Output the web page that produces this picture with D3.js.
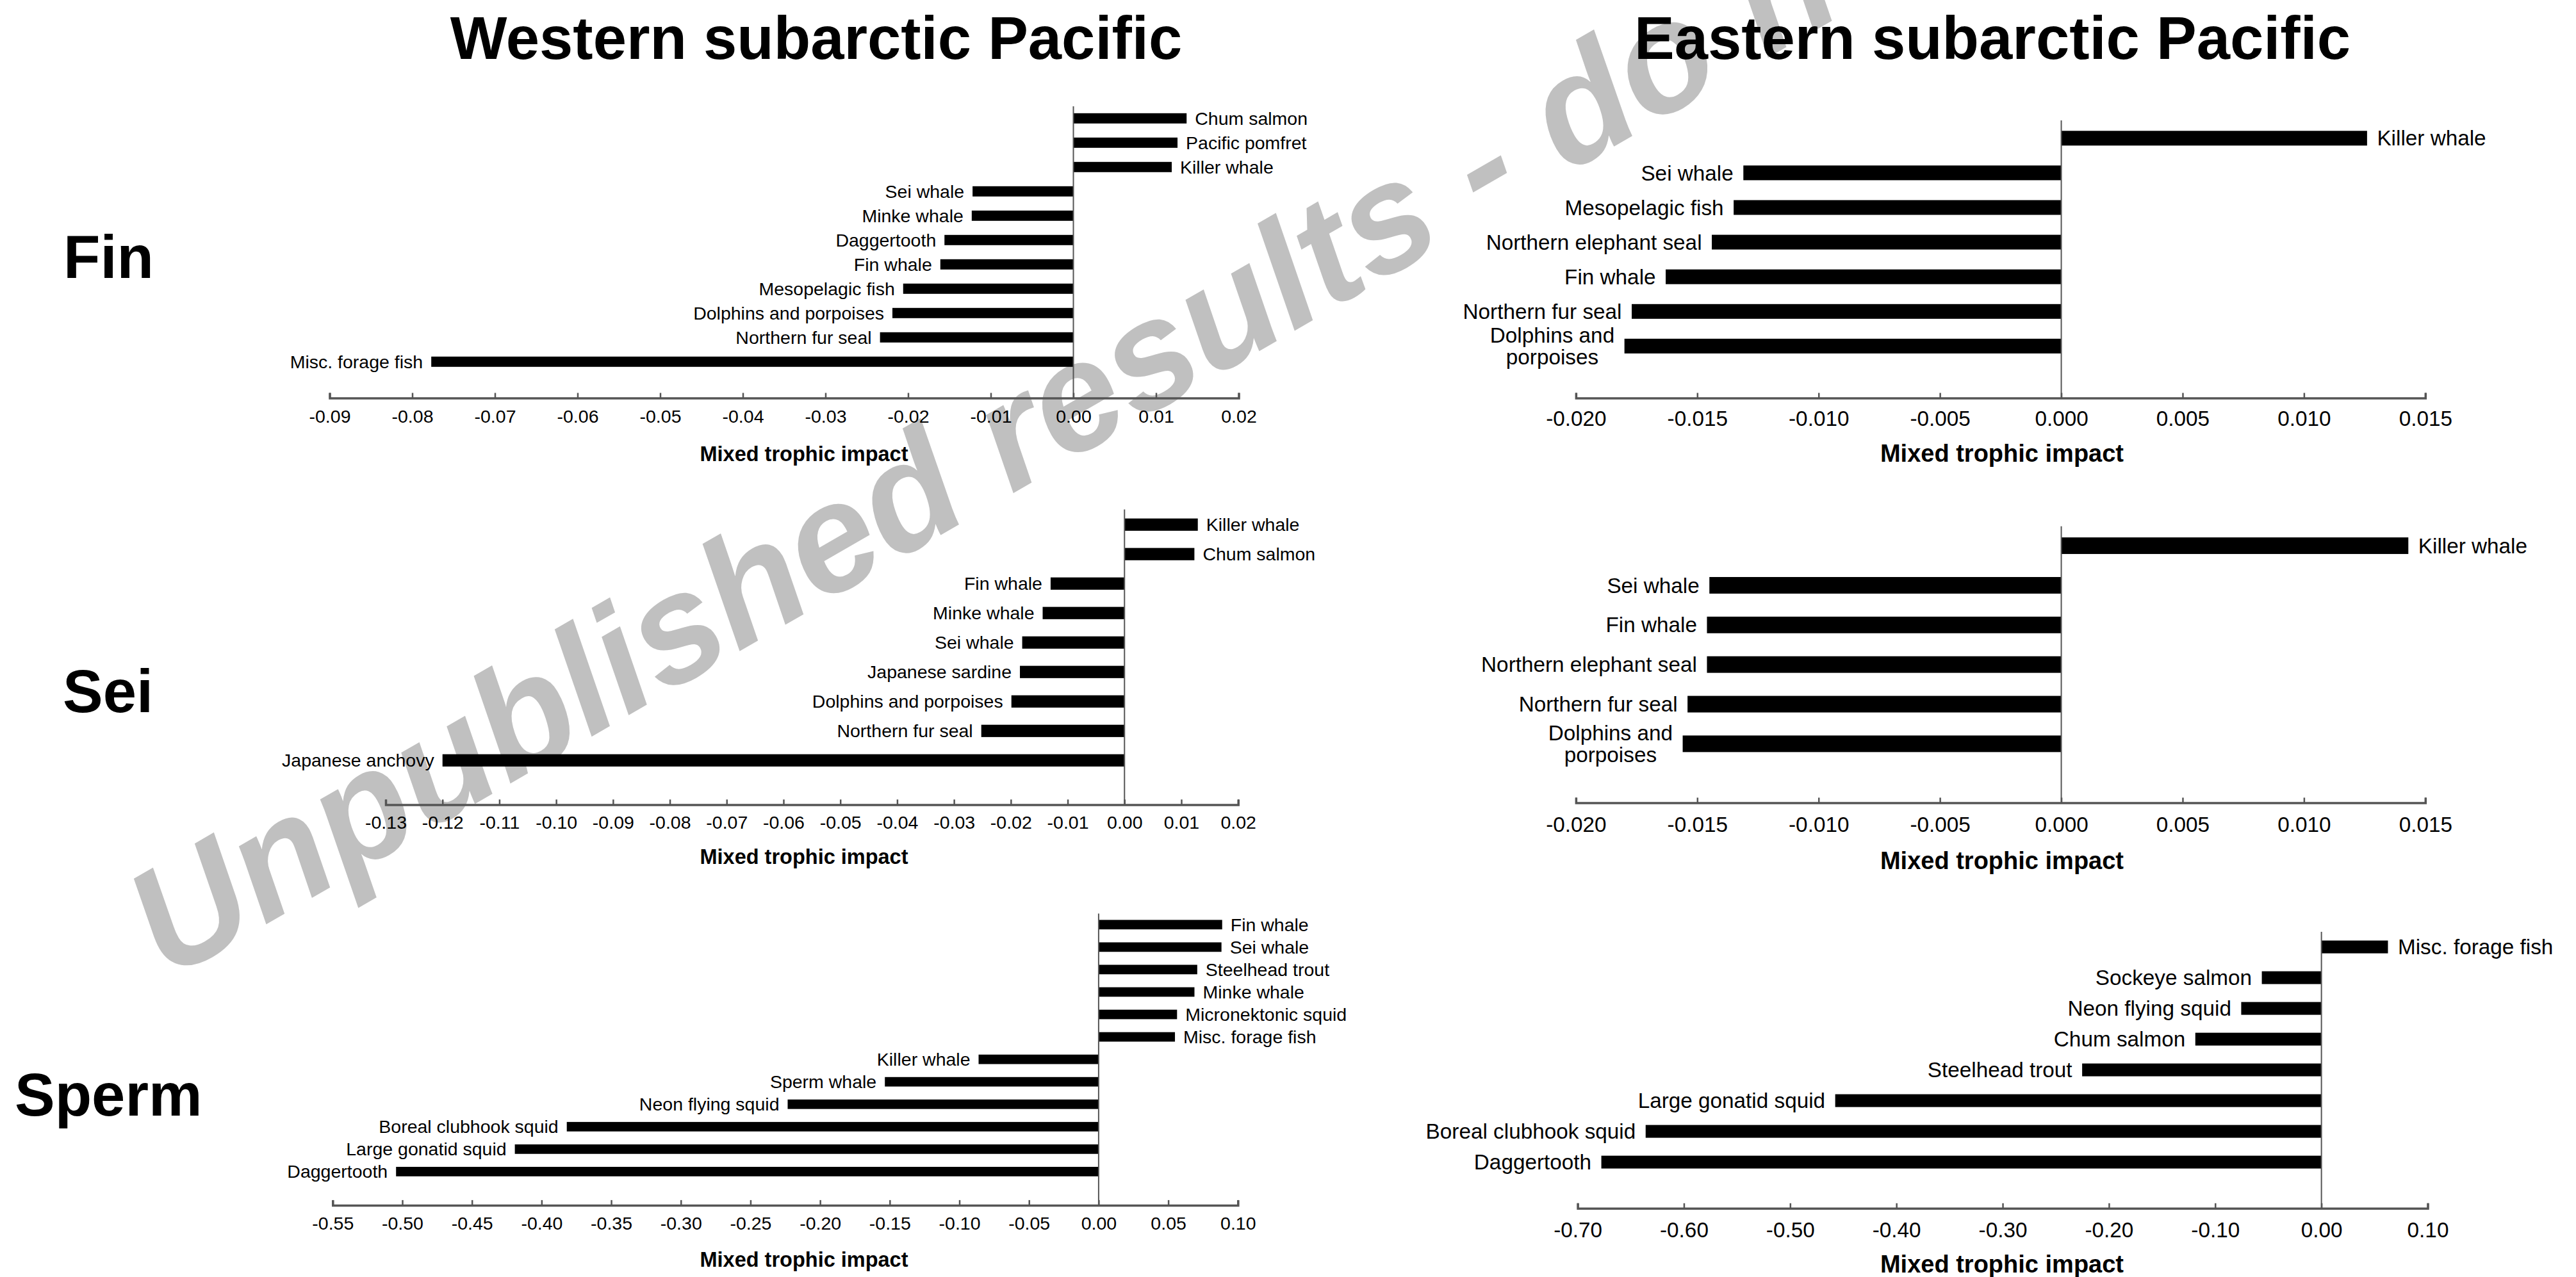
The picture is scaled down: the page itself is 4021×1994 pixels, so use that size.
<!DOCTYPE html>
<html>
<head>
<meta charset="utf-8">
<script src="https://cdn.jsdelivr.net/npm/d3@7"></script>
<style>
  html, body { margin: 0; padding: 0; background: #fff; }
  svg { display: block; }
  text { font-family: "Liberation Sans", Arial, Helvetica, sans-serif; }
</style>
</head>
<body>
<svg id="chart" width="4021" height="1994"></svg>
<script>
// ---- Mixed trophic impact data (top-to-bottom order) ----
const westFinSpecies = ["Chum salmon", "Pacific pomfret", "Killer whale", "Sei whale", "Minke whale",
  "Daggertooth", "Fin whale", "Mesopelagic fish", "Dolphins and porpoises", "Northern fur seal", "Misc. forage fish"];
const westFinImpact = [0.0137, 0.0126, 0.0119, -0.0122, -0.0123, -0.0156, -0.0161, -0.0206, -0.0219, -0.0234, -0.0777];
const westFinTicks = [-0.09, -0.08, -0.07, -0.06, -0.05, -0.04, -0.03, -0.02, -0.01, 0.00, 0.01, 0.02];

const eastFinSpecies = ["Killer whale", "Sei whale", "Mesopelagic fish", "Northern elephant seal",
  "Fin whale", "Northern fur seal", "Dolphins and\nporpoises"];
const eastFinImpact = [0.0126, -0.0131, -0.0135, -0.0144, -0.0163, -0.0177, -0.0180];
const eastTicks = [-0.020, -0.015, -0.010, -0.005, 0.000, 0.005, 0.010, 0.015];

const westSeiSpecies = ["Killer whale", "Chum salmon", "Fin whale", "Minke whale", "Sei whale",
  "Japanese sardine", "Dolphins and porpoises", "Northern fur seal", "Japanese anchovy"];
const westSeiImpact = [0.0129, 0.0123, -0.0130, -0.0144, -0.0180, -0.0184, -0.0199, -0.0252, -0.1200];
const westSeiTicks = [-0.13, -0.12, -0.11, -0.10, -0.09, -0.08, -0.07, -0.06, -0.05, -0.04, -0.03, -0.02, -0.01, 0.00, 0.01, 0.02];

const eastSeiSpecies = ["Killer whale", "Sei whale", "Fin whale", "Northern elephant seal",
  "Northern fur seal", "Dolphins and\nporpoises"];
const eastSeiImpact = [0.0143, -0.0145, -0.0146, -0.0146, -0.0154, -0.0156];

const westSpermSpecies = ["Fin whale", "Sei whale", "Steelhead trout", "Minke whale", "Micronektonic squid",
  "Misc. forage fish", "Killer whale", "Sperm whale", "Neon flying squid", "Boreal clubhook squid",
  "Large gonatid squid", "Daggertooth"];
const westSpermImpact = [0.0887, 0.0882, 0.0708, 0.0688, 0.0563, 0.0548, -0.0862, -0.1535, -0.2233, -0.3819, -0.4192, -0.5045];
const westSpermTicks = [-0.55, -0.50, -0.45, -0.40, -0.35, -0.30, -0.25, -0.20, -0.15, -0.10, -0.05, 0.00, 0.05, 0.10];

const eastSpermSpecies = ["Misc. forage fish", "Sockeye salmon", "Neon flying squid", "Chum salmon",
  "Steelhead trout", "Large gonatid squid", "Boreal clubhook squid", "Daggertooth"];
const eastSpermImpact = [0.0626, -0.0561, -0.0755, -0.1187, -0.2252, -0.4576, -0.6360, -0.6777];
const eastSpermTicks = [-0.70, -0.60, -0.50, -0.40, -0.30, -0.20, -0.10, 0.00, 0.10];

const regionTitles = ["Western subarctic Pacific", "Eastern subarctic Pacific"];
const predatorNames = ["Fin", "Sei", "Sperm"];
const axisTitle = "Mixed trophic impact";
const watermarkText = "Unpublished results - do not cite";

// ---- layout of the six panels ----
const west = { font: 28.5, titleFont: 32.5, titleX: 1255, gap: 13 };
const east = { font: 33.3, titleFont: 38, titleX: 3125, gap: 15.5 };

const panels = [
  Object.assign({ species: westFinSpecies, impact: westFinImpact, ticks: westFinTicks, digits: 2,
    xRange: [514.5, 1933.5], yRange: [184.8, 564.8], barH: 16, zeroTop: 166, axisY: 621.5,
    tickPad: 18, titleY: 720 }, west),
  Object.assign({ species: eastFinSpecies, impact: eastFinImpact, ticks: eastTicks, digits: 3,
    xRange: [2459.9, 3785.8], yRange: [215.8, 540.4], barH: 23, zeroTop: 188, axisY: 621.5,
    tickPad: 20, titleY: 721 }, east),
  Object.assign({ species: westSeiSpecies, impact: westSeiImpact, ticks: westSeiTicks, digits: 2,
    xRange: [602, 1932.7], yRange: [819.2, 1187.3], barH: 19.2, zeroTop: 795.5, axisY: 1256.4,
    tickPad: 17.5, titleY: 1349 }, west),
  Object.assign({ species: eastSeiSpecies, impact: eastSeiImpact, ticks: eastTicks, digits: 3,
    xRange: [2459.9, 3785.8], yRange: [852.1, 1161.4], barH: 25.9, zeroTop: 821.8, axisY: 1253.5,
    tickPad: 21.5, titleY: 1357 }, east),
  Object.assign({ species: westSpermSpecies, impact: westSpermImpact, ticks: westSpermTicks, digits: 2,
    xRange: [519.3, 1932.3], yRange: [1443.8, 1829.4], barH: 14.8, zeroTop: 1426.5, axisY: 1881.9,
    tickPad: 17.8, titleY: 1978 }, west),
  Object.assign({ species: eastSpermSpecies, impact: eastSpermImpact, ticks: eastSpermTicks, digits: 2,
    xRange: [2462.6, 3789.5], yRange: [1478.6, 1814.6], barH: 20, zeroTop: 1454.9, axisY: 1886.8,
    tickPad: 21.3, titleY: 1987 }, east)
];

const svg = d3.select("#chart");
svg.append("rect").attr("width", 4021).attr("height", 1994).attr("fill", "#fff");

// diagonal watermark, beneath the charts
svg.append("text")
  .attr("transform", "translate(262,1532) rotate(-30)")
  .attr("font-size", 240)
  .attr("font-weight", "bold")
  .attr("font-style", "italic")
  .attr("fill", "#c0c0c0")
  .text(watermarkText);

// column headings
[1274, 3110].forEach((cx, i) => {
  svg.append("text")
    .attr("x", cx).attr("y", 92)
    .attr("text-anchor", "middle")
    .attr("font-size", 94)
    .attr("font-weight", "bold")
    .text(regionTitles[i]);
});

// row headings
[[99, 434], [98, 1112], [23, 1742]].forEach(([x, y], i) => {
  svg.append("text")
    .attr("x", x).attr("y", y)
    .attr("font-size", 94)
    .attr("font-weight", "bold")
    .text(predatorNames[i]);
});

panels.forEach(p => {
  const g = svg.append("g");
  const x = d3.scaleLinear()
    .domain([p.ticks[0], p.ticks[p.ticks.length - 1]])
    .range(p.xRange);
  const y = d3.scalePoint().domain(p.species).range(p.yRange);
  const rows = p.species.map((s, i) => ({ s, v: p.impact[i] }));

  // bars
  g.selectAll("rect.bar").data(rows).join("rect")
    .attr("class", "bar")
    .attr("x", d => Math.min(x(0), x(d.v)))
    .attr("width", d => Math.abs(x(d.v) - x(0)))
    .attr("y", d => y(d.s) - p.barH / 2)
    .attr("height", p.barH)
    .attr("fill", "#000");

  // zero line
  g.append("line")
    .attr("x1", x(0)).attr("x2", x(0))
    .attr("y1", p.zeroTop).attr("y2", p.axisY)
    .attr("stroke", "#555").attr("stroke-width", 2);

  // bar labels
  rows.forEach(d => {
    const lines = d.s.split("\n");
    const pos = d.v >= 0;
    const t = g.append("text")
      .attr("font-size", p.font)
      .attr("fill", "#000");
    if (lines.length === 1) {
      t.attr("x", pos ? x(d.v) + p.gap : x(d.v) - p.gap)
        .attr("y", y(d.s))
        .attr("dy", "0.35em")
        .attr("text-anchor", pos ? "start" : "end")
        .text(d.s);
    } else {
      t.attr("text-anchor", "middle");
      const spans = lines.map((ln, k) => t.append("tspan")
        .attr("y", y(d.s) + (k - (lines.length - 1) / 2) * p.font * 1.03)
        .attr("dy", "0.35em")
        .text(ln));
      const w = d3.max(spans, sp => sp.node().getComputedTextLength());
      const cx = pos ? x(d.v) + p.gap + w / 2 : x(d.v) - p.gap - w / 2;
      spans.forEach(sp => sp.attr("x", cx));
    }
  });

  // x axis
  const ax = g.append("g")
    .attr("transform", `translate(0,${p.axisY})`)
    .call(d3.axisBottom(x)
      .tickValues(p.ticks)
      .tickFormat(v => v.toFixed(p.digits))
      .tickSize(-8)
      .tickSizeOuter(-8)
      .tickPadding(p.tickPad));
  ax.select(".domain").attr("stroke", "#555").attr("stroke-width", 3.5).attr("fill", "none");
  ax.selectAll(".tick line").attr("stroke", "#555").attr("stroke-width", 2.5);
  ax.selectAll(".tick text")
    .attr("font-size", p.font)
    .attr("font-family", "'Liberation Sans', Arial, Helvetica, sans-serif")
    .attr("fill", "#000");

  // axis title
  g.append("text")
    .attr("x", p.titleX).attr("y", p.titleY)
    .attr("text-anchor", "middle")
    .attr("font-size", p.titleFont)
    .attr("font-weight", "bold")
    .text(axisTitle);
});
</script>
</body>
</html>
